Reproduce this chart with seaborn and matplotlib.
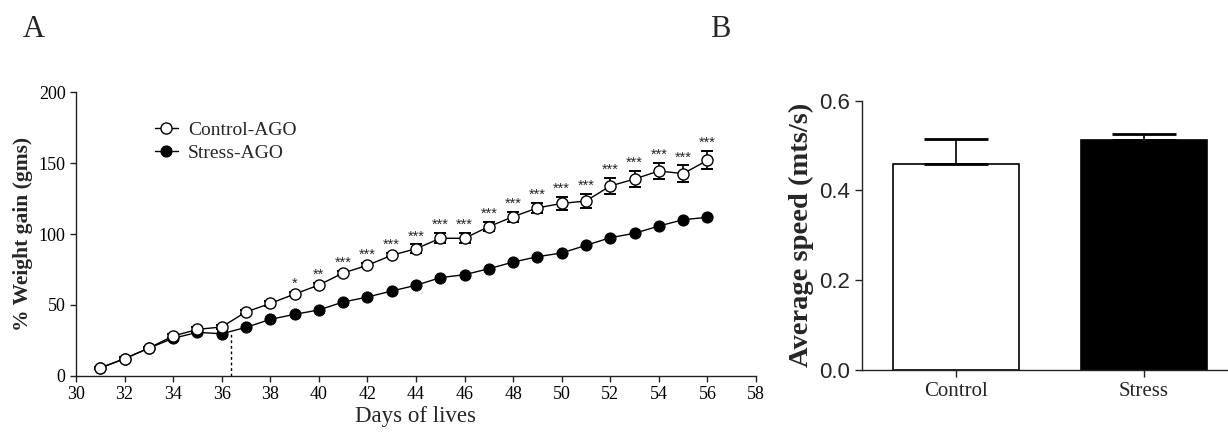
import numpy as np
import pandas as pd
import matplotlib
matplotlib.use("Agg")
import matplotlib.pyplot as plt
import seaborn as sns

# ---- data ----
days = list(range(31, 57))
control_gain = [5.5, 12, 19.5, 28, 32.7, 34.4, 45, 51, 57.6, 64, 72.5, 77.9, 85, 89.6,
                97, 97, 105.2, 112.2, 118.4, 121.6, 123.3, 133.9, 138.8, 144.5, 142.6, 152]
control_err = [1, 1, 1, 1.5, 1.5, 1.5, 1.5, 1.5, 1.5, 1.5, 1.5, 1.5, 1.5, 3,
               3.5, 3.5, 3, 3.5, 3.5, 4.4, 4.7, 5.4, 5.8, 5.9, 5.8, 6.4]
stress_gain = [5.5, 12, 19.5, 26.4, 30.6, 29.6, 34.1, 39.8, 43.3, 46.4, 52, 55.5, 59.8, 63.8,
               69.2, 71.3, 75.5, 80.2, 84, 86.6, 92, 97.4, 100.5, 105.6, 110.1, 111.8]
stars = ["", "", "", "", "", "", "", "", "*", "**", "***", "***", "***", "***",
         "***", "***", "***", "***", "***", "***", "***", "***", "***", "***", "***", "***"]
groups = ["Control", "Stress"]
speed = [0.46, 0.513]
speed_err = [0.055, 0.013]

sns.set_style("ticks")
plt.rcParams["font.family"] = ["Liberation Serif", "DejaVu Serif"]

fig = plt.figure(figsize=(12.28, 4.32), dpi=100)
axA = fig.add_axes([0.0619, 0.1303, 0.5537, 0.656])
axB = fig.add_axes([0.702, 0.1435, 0.297, 0.6234])

AXC = "#222222"

# ---- panel A ----
df = pd.DataFrame({
    "day": days * 2,
    "gain": control_gain + stress_gain,
    "group": ["Control-AGO"] * len(days) + ["Stress-AGO"] * len(days),
})
axA.errorbar(days, control_gain, yerr=control_err, fmt="none", ecolor="black",
             elinewidth=1.2, capsize=4, capthick=1.4, zorder=2)
sns.lineplot(data=df[df.group == "Stress-AGO"], x="day", y="gain", ax=axA,
             color="black", marker="o", markersize=8, markerfacecolor="black",
             markeredgecolor="black", linewidth=1, label="Stress-AGO", zorder=3)
sns.lineplot(data=df[df.group == "Control-AGO"], x="day", y="gain", ax=axA,
             color="black", marker="o", markersize=8, markerfacecolor="white",
             markeredgecolor="black", markeredgewidth=1, linewidth=1,
             label="Control-AGO", zorder=4)
for d, v, e, s in zip(days, control_gain, control_err, stars):
    if s:
        axA.text(d, v + e + 0.8, s, ha="center", va="bottom", fontsize=10.5,
                 family="Liberation Sans")
axA.plot([36.37, 36.37], [0, 31], ls=(0, (2, 2)), color="black", lw=1)

axA.set_xlim(30, 58)
axA.set_ylim(0, 200)
axA.set_xticks(range(30, 59, 2))
axA.set_yticks(range(0, 201, 50))
axA.tick_params(labelsize=13, length=4, width=1, direction="out", color=AXC, labelcolor="black")
axA.set_xlabel("Days of lives", fontsize=16.5, labelpad=2)
axA.set_ylabel("% Weight gain (gms)", fontsize=15.5, fontweight="bold", labelpad=4)
handles, labels = axA.get_legend_handles_labels()
order = [labels.index("Control-AGO"), labels.index("Stress-AGO")]
axA.legend([handles[i] for i in order], [labels[i] for i in order],
           loc="upper left", bbox_to_anchor=(0.09, 0.96), frameon=False,
           fontsize=14, handlelength=1.2, handletextpad=0.5, labelspacing=0.3)
sns.despine(ax=axA)
for sp in axA.spines.values():
    sp.set_linewidth(1)
    sp.set_color(AXC)

# ---- panel B ----
dfb = pd.DataFrame({"group": groups, "speed": speed})
sns.barplot(data=dfb, x="group", y="speed", hue="group", palette=["white", "black"],
            edgecolor="black", linewidth=1.2, width=0.667, legend=False, ax=axB,
            errorbar=None)
axB.errorbar([0, 1], speed, yerr=[[0, 0], speed_err], fmt="none", ecolor="black",
             elinewidth=1.2, capsize=22.7, capthick=2, zorder=1)
axB.set_xlim(-0.5, 1.44)
axB.set_ylim(0, 0.6)
axB.set_yticks([0.0, 0.2, 0.4, 0.6])
axB.set_yticklabels(["0.0", "0.2", "0.4", "0.6"], family="Liberation Sans", fontsize=16)
axB.tick_params(axis="x", labelsize=15, length=5, width=1, color=AXC)
axB.tick_params(axis="y", length=5, width=1, color=AXC)
axB.set_xlabel("")
axB.set_ylabel("Average speed (mts/s)", fontsize=20.5, fontweight="bold", labelpad=4)
sns.despine(ax=axB)
for sp in axB.spines.values():
    sp.set_linewidth(1)
    sp.set_color(AXC)

fig.text(34 / 1228, 1 - 37 / 432, "A", fontsize=22, ha="center", va="baseline")
fig.text(720 / 1228, 1 - 37 / 432, "B", fontsize=22, ha="center", va="baseline")

fig.savefig("out.png", dpi=100)
